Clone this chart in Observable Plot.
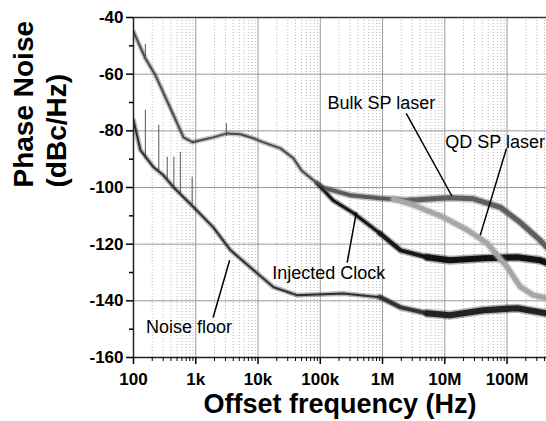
<!DOCTYPE html>
<html>
<head>
<meta charset="utf-8">
<script src="https://cdn.jsdelivr.net/npm/d3@7"></script>
<script src="https://cdn.jsdelivr.net/npm/@observablehq/plot@0.6"></script>
<style>
  html, body { margin: 0; padding: 0; background: #fff; }
  #chart { width: 546px; height: 421px; }
</style>
</head>
<body>
<div id="chart"></div>
<script>
// ---- Data ----
const bulkF  = [100, 155, 225, 300, 440, 635, 890, 1200, 1900, 3200, 5200, 8400, 12e3, 23e3, 37e3, 50e3, 89e3, 130e3, 300e3, 910e3, 2.8e6, 12e6, 29e6, 78e6, 162e6, 339e6, 430e6];
const bulkDb = [-45, -54.4, -60.4, -66.4, -74.5, -82.3, -84, -83.3, -82.3, -80.9, -81.2, -82.6, -84, -86.2, -89.7, -94, -98.5, -100.5, -102.7, -103.8, -104.5, -103.6, -104, -107, -112.3, -118.6, -121];

const clockF  = [89e3, 160e3, 340e3, 910e3, 1.95e6, 5.2e6, 12e6, 42e6, 145e6, 340e6, 430e6];
const clockDb = [-98.5, -104.5, -109, -116.2, -122.2, -124.6, -125.7, -125, -124.6, -125.7, -126.5];

const qdF  = [1.5e6, 3e6, 9.5e6, 23e6, 48e6, 100e6, 162e6, 263e6, 430e6];
const qdDb = [-104, -106, -110.5, -115, -119.7, -128, -135, -138, -139];

const floorF  = [100, 129, 209, 303, 439, 919, 1900, 3600, 8500, 17.8e3, 42e3, 234e3, 910e3, 1.95e6, 5.2e6, 12e6, 42e6, 145e6, 430e6];
const floorDb = [-76.3, -86.8, -92.8, -95.7, -99.9, -106.9, -114, -122.1, -129.2, -135.2, -138, -137.4, -138.7, -142.3, -144.4, -145.1, -143.3, -142.6, -144.4];

// spurs on the noise floor (frequency, base level, peak level)
const spurF    = [155, 255, 348, 445, 565, 875];
const spurBase = [-90, -94, -97, -100, -102, -106];
const spurPeak = [-72.7, -78, -89.3, -89.3, -87.6, -96.4];

// spurs on the bulk trace
const bulkSpurF = [155, 3100];
const bulkSpurBase = [-54, -82];
const bulkSpurPeak = [-49.5, -77.5];

// annotations
const labelText   = ["Bulk SP laser", "QD SP laser", "Injected Clock", "Noise floor"];
const labelF      = [955e3, 10.2e6, 137e3, 776];
const labelDb     = [-70.3, -83.9, -130.4, -149.4];
const labelAnchor = ["middle", "start", "middle", "middle"];
const leaderF1  = [2.4e6, 98e6, 270e3, 1.9e3];
const leaderDb1 = [-73.8, -86.2, -126.5, -145.9];
const leaderF2  = [13e6, 37e6, 380e3, 3.5e3];
const leaderDb2 = [-103, -116.9, -108.8, -125.7];

// axes
const xTickValues = [1e2, 1e3, 1e4, 1e5, 1e6, 1e7, 1e8];
const xTickLabels = ["100", "1k", "10k", "100k", "1M", "10M", "100M"];
const yTickValues = [-160, -140, -120, -100, -80, -60, -40];
const yTickLabels = ["-160", "-140", "-120", "-100", "-80", "-60", "-40"];
const yMinorValues = [-150, -130, -110, -90, -70, -50];
const xDomain = [100, 4.3e8];
const yDomain = [-160, -40];

// ---- Build tables ----
const rows = (F, D) => F.map((f, i) => ({f, db: D[i]}));
const bulk = rows(bulkF, bulkDb);
const clock = rows(clockF, clockDb);
const qd = rows(qdF, qdDb);
const floor = rows(floorF, floorDb);
const spurs = spurF.map((f, i) => ({f, y1: spurBase[i], y2: spurPeak[i]}));
const bulkSpurs = bulkSpurF.map((f, i) => ({f, y1: bulkSpurBase[i], y2: bulkSpurPeak[i]}));
const labels = labelText.map((t, i) => ({t, f: labelF[i], db: labelDb[i], a: labelAnchor[i]}));
const leaders = leaderF1.map((f, i) => ({f1: f, d1: leaderDb1[i], f2: leaderF2[i], d2: leaderDb2[i]}));
const xTicks = xTickValues.map((v, i) => ({v, t: xTickLabels[i]}));
const yTicks = yTickValues.map((v, i) => ({v, t: yTickLabels[i]}));

const minorX = [];
for (let k = 2; k <= 8; k++) for (let m = 2; m <= 9; m++) {
  const v = m * Math.pow(10, k);
  if (v <= xDomain[1]) minorX.push(v);
}

const seg = (data, lo, hi) => data.filter(d => d.f >= lo && d.f <= hi);
// a noisy trace: soft wide band plus darker core
const trace = (data, color, w) => [
  Plot.line(data, {x: "f", y: "db", stroke: color, strokeWidth: w + 3, strokeOpacity: 0.35, strokeLinejoin: "round", strokeLinecap: "round", clip: true}),
  Plot.line(data, {x: "f", y: "db", stroke: color, strokeWidth: w, strokeLinejoin: "round", strokeLinecap: "round", clip: true})
];

const font = "Liberation Sans, Arial, Helvetica, sans-serif";
const blank = () => "";

const chart = Plot.plot({
  width: 546,
  height: 421,
  marginLeft: 133,
  marginRight: 0,
  marginTop: 17,
  marginBottom: 64,
  style: {fontFamily: font, color: "#000", background: "#fff"},
  x: {type: "log", domain: xDomain, axis: null},
  y: {domain: yDomain, axis: null},
  marks: [
    // grid
    Plot.gridX(minorX, {stroke: "#b8b8b8", strokeOpacity: 1, strokeDasharray: "1,2", strokeWidth: 1}),
    Plot.gridX(xTickValues, {stroke: "#9a9a9a", strokeOpacity: 1, strokeWidth: 1}),
    Plot.gridY(yTickValues, {stroke: "#9a9a9a", strokeOpacity: 1, strokeWidth: 1}),

    // noise floor
    Plot.ruleX(spurs, {x: "f", y1: "y1", y2: "y2", stroke: "#555", strokeWidth: 1, clip: true}),
    ...trace(seg(floor, 100, 1e6), "#2e2e2e", 2),
    ...trace(seg(floor, 910e3, 5.2e6), "#333", 4),
    ...trace(seg(floor, 5.2e6, 1e9), "#222", 6),

    // injected clock
    ...trace(seg(clock, 1, 1e6), "#151515", 3),
    ...trace(seg(clock, 910e3, 5.2e6), "#181818", 4),
    ...trace(seg(clock, 5.2e6, 1e9), "#111", 6),

    // bulk SP laser
    Plot.ruleX(bulkSpurs, {x: "f", y1: "y1", y2: "y2", stroke: "#555", strokeWidth: 1, clip: true}),
    ...trace(seg(bulk, 100, 130e3), "#4a4a4a", 2),
    ...trace(seg(bulk, 130e3, 2.8e6), "#5a5a5a", 4),
    ...trace(seg(bulk, 2.8e6, 1e9), "#5e5e5e", 5),

    // QD SP laser
    ...trace(qd, "#a6a6a6", 5),

    // frame lines
    Plot.ruleY([-40], {stroke: "#333", strokeWidth: 1.5}),
    Plot.ruleX([100], {stroke: "#222", strokeWidth: 1.5}),
    Plot.ruleY([-160], {stroke: "#222", strokeWidth: 1.5}),

    // axis ticks
    Plot.axisY(yTickValues, {tickSize: 7, strokeWidth: 1.5, label: null, tickFormat: blank}),
    Plot.axisY(yMinorValues, {tickSize: 4, strokeWidth: 1.5, label: null, tickFormat: blank}),
    Plot.axisX(xTickValues, {tickSize: 7, strokeWidth: 1.5, label: null, tickFormat: blank}),
    Plot.axisX(minorX, {tickSize: 4, strokeWidth: 1, label: null, tickFormat: blank}),

    // tick labels
    Plot.text(xTicks, {x: "v", text: "t", frameAnchor: "bottom", dy: 15, lineAnchor: "top", fontSize: 17, fontWeight: "bold", fontFamily: font, fill: "#000"}),
    Plot.text(yTicks, {y: "v", text: "t", frameAnchor: "left", dx: -10, textAnchor: "end", fontSize: 17, fontWeight: "bold", fontFamily: font, fill: "#000"}),

    // annotations
    Plot.link(leaders, {x1: "f1", y1: "d1", x2: "f2", y2: "d2", stroke: "#000", strokeWidth: 1.5}),
    Plot.text(labels.filter(d => d.a === "middle"), {x: "f", y: "db", text: "t", textAnchor: "middle", fontSize: 18, fontFamily: font, fill: "#000"}),
    Plot.text(labels.filter(d => d.a === "start"), {x: "f", y: "db", text: "t", textAnchor: "start", fontSize: 18, fontFamily: font, fill: "#000"}),

    // axis titles
    Plot.text(["Offset frequency (Hz)"], {frameAnchor: "bottom", dy: 55, lineAnchor: "bottom", fontSize: 27, fontWeight: "bold", fontFamily: font, fill: "#000"}),
    Plot.text(["Phase Noise\n(dBc/Hz)"], {frameAnchor: "left", dx: -95, rotate: -90, lineAnchor: "middle", lineHeight: 1.18, fontSize: 28, fontWeight: "bold", fontFamily: font, fill: "#000"})
  ]
});

document.getElementById("chart").appendChild(chart);
</script>
</body>
</html>
